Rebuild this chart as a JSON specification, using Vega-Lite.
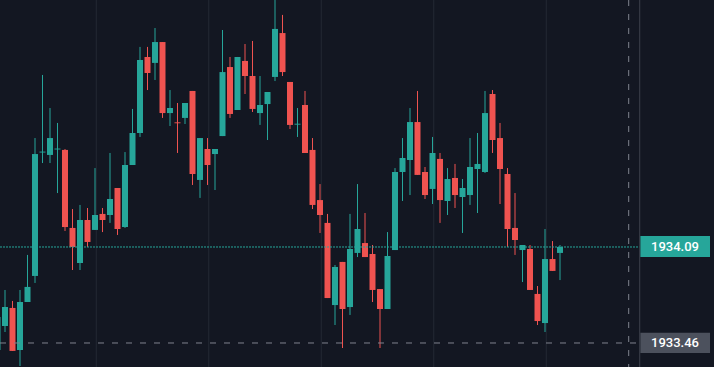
{
  "$schema": "https://vega.github.io/schema/vega-lite/v6.json",
  "width": 714,
  "height": 367,
  "autosize": {"type": "none"},
  "padding": 0,
  "background": "#131722",
  "config": {"view": {"stroke": null}, "scale": {"continuousPadding": 0}},
  "datasets": {
    "candles": [
      {"i": -1, "o": 1933.414, "c": 1933.631, "h": 1933.709, "l": 1933.348, "d": "up"},
      {"i": 0, "o": 1933.572, "c": 1933.696, "h": 1933.808, "l": 1933.532, "d": "up"},
      {"i": 1, "o": 1933.690, "c": 1933.408, "h": 1933.736, "l": 1933.408, "d": "down"},
      {"i": 2, "o": 1933.414, "c": 1933.729, "h": 1933.808, "l": 1933.309, "d": "up"},
      {"i": 3, "o": 1933.729, "c": 1933.828, "h": 1934.038, "l": 1933.729, "d": "up"},
      {"i": 4, "o": 1933.900, "c": 1934.700, "h": 1934.805, "l": 1933.854, "d": "up"},
      {"i": 5, "o": 1934.710, "c": 1934.716, "h": 1935.219, "l": 1934.641, "d": "up"},
      {"i": 6, "o": 1934.694, "c": 1934.805, "h": 1935.002, "l": 1934.641, "d": "up"},
      {"i": 7, "o": 1934.730, "c": 1934.736, "h": 1934.904, "l": 1934.444, "d": "up"},
      {"i": 8, "o": 1934.727, "c": 1934.221, "h": 1934.733, "l": 1934.195, "d": "down"},
      {"i": 9, "o": 1934.215, "c": 1934.090, "h": 1934.339, "l": 1933.939, "d": "down"},
      {"i": 10, "o": 1933.985, "c": 1934.267, "h": 1934.366, "l": 1933.939, "d": "up"},
      {"i": 11, "o": 1934.267, "c": 1934.123, "h": 1934.346, "l": 1934.090, "d": "down"},
      {"i": 12, "o": 1934.202, "c": 1934.300, "h": 1934.608, "l": 1934.202, "d": "up"},
      {"i": 13, "o": 1934.307, "c": 1934.267, "h": 1934.346, "l": 1934.188, "d": "down"},
      {"i": 14, "o": 1934.300, "c": 1934.405, "h": 1934.707, "l": 1934.248, "d": "up"},
      {"i": 15, "o": 1934.477, "c": 1934.208, "h": 1934.477, "l": 1934.169, "d": "down"},
      {"i": 16, "o": 1934.221, "c": 1934.628, "h": 1934.713, "l": 1934.215, "d": "up"},
      {"i": 17, "o": 1934.628, "c": 1934.838, "h": 1934.996, "l": 1934.628, "d": "up"},
      {"i": 18, "o": 1934.838, "c": 1935.317, "h": 1935.403, "l": 1934.812, "d": "up"},
      {"i": 19, "o": 1935.337, "c": 1935.232, "h": 1935.403, "l": 1935.120, "d": "down"},
      {"i": 20, "o": 1935.298, "c": 1935.435, "h": 1935.527, "l": 1935.186, "d": "up"},
      {"i": 21, "o": 1935.435, "c": 1934.969, "h": 1935.435, "l": 1934.937, "d": "down"},
      {"i": 22, "o": 1934.969, "c": 1935.002, "h": 1935.120, "l": 1934.884, "d": "up"},
      {"i": 23, "o": 1934.908, "c": 1934.902, "h": 1935.035, "l": 1934.707, "d": "down"},
      {"i": 24, "o": 1934.937, "c": 1935.035, "h": 1935.035, "l": 1934.897, "d": "up"},
      {"i": 25, "o": 1935.114, "c": 1934.569, "h": 1935.114, "l": 1934.497, "d": "down"},
      {"i": 26, "o": 1934.530, "c": 1934.805, "h": 1934.805, "l": 1934.412, "d": "up"},
      {"i": 27, "o": 1934.733, "c": 1934.628, "h": 1934.805, "l": 1934.497, "d": "down"},
      {"i": 28, "o": 1934.700, "c": 1934.733, "h": 1934.733, "l": 1934.464, "d": "up"},
      {"i": 29, "o": 1934.818, "c": 1935.238, "h": 1935.514, "l": 1934.818, "d": "up"},
      {"i": 30, "o": 1935.271, "c": 1934.963, "h": 1935.337, "l": 1934.937, "d": "down"},
      {"i": 31, "o": 1934.989, "c": 1935.337, "h": 1935.337, "l": 1934.989, "d": "up"},
      {"i": 32, "o": 1935.311, "c": 1935.212, "h": 1935.422, "l": 1935.094, "d": "down"},
      {"i": 33, "o": 1935.212, "c": 1934.996, "h": 1935.442, "l": 1934.976, "d": "down"},
      {"i": 34, "o": 1934.969, "c": 1935.022, "h": 1935.212, "l": 1934.891, "d": "up"},
      {"i": 35, "o": 1935.028, "c": 1935.107, "h": 1935.107, "l": 1934.792, "d": "up"},
      {"i": 36, "o": 1935.206, "c": 1935.521, "h": 1935.744, "l": 1935.179, "d": "up"},
      {"i": 37, "o": 1935.494, "c": 1935.238, "h": 1935.613, "l": 1935.212, "d": "down"},
      {"i": 38, "o": 1935.173, "c": 1934.891, "h": 1935.173, "l": 1934.864, "d": "down"},
      {"i": 39, "o": 1934.893, "c": 1934.899, "h": 1935.002, "l": 1934.812, "d": "up"},
      {"i": 40, "o": 1935.022, "c": 1934.707, "h": 1935.114, "l": 1934.707, "d": "down"},
      {"i": 41, "o": 1934.727, "c": 1934.366, "h": 1934.805, "l": 1934.339, "d": "down"},
      {"i": 42, "o": 1934.398, "c": 1934.300, "h": 1934.503, "l": 1934.182, "d": "down"},
      {"i": 43, "o": 1934.248, "c": 1933.755, "h": 1934.307, "l": 1933.755, "d": "down"},
      {"i": 44, "o": 1933.709, "c": 1933.959, "h": 1933.972, "l": 1933.578, "d": "up"},
      {"i": 45, "o": 1933.992, "c": 1933.683, "h": 1933.992, "l": 1933.427, "d": "down"},
      {"i": 46, "o": 1933.696, "c": 1934.077, "h": 1934.307, "l": 1933.644, "d": "up"},
      {"i": 47, "o": 1934.051, "c": 1934.208, "h": 1934.503, "l": 1934.024, "d": "up"},
      {"i": 48, "o": 1934.116, "c": 1934.024, "h": 1934.313, "l": 1934.024, "d": "down"},
      {"i": 49, "o": 1934.044, "c": 1933.808, "h": 1934.103, "l": 1933.729, "d": "down"},
      {"i": 50, "o": 1933.814, "c": 1933.683, "h": 1933.814, "l": 1933.427, "d": "down"},
      {"i": 51, "o": 1933.683, "c": 1934.031, "h": 1934.188, "l": 1933.683, "d": "up"},
      {"i": 52, "o": 1934.070, "c": 1934.582, "h": 1934.608, "l": 1934.070, "d": "up"},
      {"i": 53, "o": 1934.582, "c": 1934.674, "h": 1934.805, "l": 1934.392, "d": "up"},
      {"i": 54, "o": 1934.661, "c": 1934.910, "h": 1935.002, "l": 1934.431, "d": "up"},
      {"i": 55, "o": 1934.910, "c": 1934.563, "h": 1935.114, "l": 1934.563, "d": "down"},
      {"i": 56, "o": 1934.582, "c": 1934.431, "h": 1934.615, "l": 1934.405, "d": "down"},
      {"i": 57, "o": 1934.471, "c": 1934.707, "h": 1934.812, "l": 1934.372, "d": "up"},
      {"i": 58, "o": 1934.668, "c": 1934.398, "h": 1934.707, "l": 1934.248, "d": "down"},
      {"i": 59, "o": 1934.392, "c": 1934.536, "h": 1934.608, "l": 1934.300, "d": "up"},
      {"i": 60, "o": 1934.543, "c": 1934.431, "h": 1934.635, "l": 1934.346, "d": "down"},
      {"i": 61, "o": 1934.418, "c": 1934.477, "h": 1934.536, "l": 1934.182, "d": "up"},
      {"i": 62, "o": 1934.431, "c": 1934.615, "h": 1934.805, "l": 1934.366, "d": "up"},
      {"i": 63, "o": 1934.602, "c": 1934.635, "h": 1934.838, "l": 1934.313, "d": "up"},
      {"i": 64, "o": 1934.582, "c": 1934.969, "h": 1935.114, "l": 1934.576, "d": "up"},
      {"i": 65, "o": 1935.094, "c": 1934.792, "h": 1935.120, "l": 1934.707, "d": "down"},
      {"i": 66, "o": 1934.805, "c": 1934.602, "h": 1934.904, "l": 1934.372, "d": "down"},
      {"i": 67, "o": 1934.569, "c": 1934.208, "h": 1934.608, "l": 1934.090, "d": "down"},
      {"i": 68, "o": 1934.215, "c": 1934.136, "h": 1934.444, "l": 1934.038, "d": "down"},
      {"i": 69, "o": 1934.070, "c": 1934.103, "h": 1934.103, "l": 1933.860, "d": "up"},
      {"i": 70, "o": 1934.077, "c": 1933.808, "h": 1934.103, "l": 1933.808, "d": "down"},
      {"i": 71, "o": 1933.782, "c": 1933.604, "h": 1933.834, "l": 1933.578, "d": "down"},
      {"i": 72, "o": 1933.591, "c": 1934.011, "h": 1934.208, "l": 1933.532, "d": "up"},
      {"i": 73, "o": 1934.011, "c": 1933.933, "h": 1934.129, "l": 1933.933, "d": "down"},
      {"i": 74, "o": 1934.051, "c": 1934.090, "h": 1934.103, "l": 1933.873, "d": "up"}
    ],
    "grid": [{"g": 12.17}, {"g": 27.17}, {"g": 42.17}, {"g": 57.17}, {"g": 72.17}],
    "lines": [
      {"kind": "last", "p": 1934.09, "x0": -0.6667, "x1": 84.6},
      {"kind": "cross", "p": 1933.46, "x0": -0.6667, "x1": 84.6}
    ],
    "vlines": [{"kind": "cross", "v": 83.16}, {"kind": "sep", "v": 84.63}],
    "labels": [
      {"kind": "last", "text": "1934.09", "p": 1934.09, "b0": 1934.162, "b1": 1934.024, "xa": 84.72, "xb": 94.0, "xt": 89.33},
      {"kind": "cross", "text": "1933.46", "p": 1933.46, "b0": 1933.527, "b1": 1933.394, "xa": 84.72, "xb": 94.0, "xt": 89.33}
    ]
  },
  "layer": [
    {
      "data": {"name": "grid"},
      "mark": {"type": "rule", "color": "#242935", "strokeWidth": 1},
      "encoding": {
        "x": {"field": "g", "type": "quantitative", "scale": {"domain": [-0.6667, 94.5333], "nice": false, "zero": false, "padding": 0}, "axis": null}
      }
    },
    {
      "data": {"name": "candles"},
      "mark": {"type": "rule", "strokeWidth": 1, "clip": true},
      "encoding": {
        "x": {"field": "i", "type": "quantitative", "scale": {"domain": [-0.6667, 94.5333], "nice": false, "zero": false, "padding": 0}, "axis": null},
        "y": {"field": "l", "type": "quantitative", "scale": {"domain": [1933.3025, 1935.7109], "nice": false, "zero": false, "padding": 0}, "axis": null},
        "y2": {"field": "h"},
        "color": {"field": "d", "type": "nominal", "scale": {"domain": ["up", "down"], "range": ["#26a69a", "#ef5350"]}, "legend": null}
      }
    },
    {
      "data": {"name": "candles"},
      "mark": {"type": "bar", "width": 6, "clip": true},
      "encoding": {
        "x": {"field": "i", "type": "quantitative", "scale": {"domain": [-0.6667, 94.5333], "nice": false, "zero": false, "padding": 0}, "axis": null},
        "y": {"field": "o", "type": "quantitative", "scale": {"domain": [1933.3025, 1935.7109], "nice": false, "zero": false, "padding": 0}, "axis": null},
        "y2": {"field": "c"},
        "color": {"field": "d", "type": "nominal", "scale": {"domain": ["up", "down"], "range": ["#26a69a", "#ef5350"]}, "legend": null}
      }
    },
    {
      "data": {"name": "lines"},
      "transform": [{"filter": "datum.kind == 'last'"}],
      "mark": {"type": "rule", "color": "#26a69a", "strokeWidth": 1, "strokeDash": [2, 1]},
      "encoding": {
        "x": {"field": "x0", "type": "quantitative", "scale": {"domain": [-0.6667, 94.5333], "nice": false, "zero": false, "padding": 0}, "axis": null},
        "x2": {"field": "x1"},
        "y": {"field": "p", "type": "quantitative", "scale": {"domain": [1933.3025, 1935.7109], "nice": false, "zero": false, "padding": 0}, "axis": null}
      }
    },
    {
      "data": {"name": "lines"},
      "transform": [{"filter": "datum.kind == 'cross'"}],
      "mark": {"type": "rule", "color": "#7f838e", "strokeWidth": 1, "strokeDash": [6, 8]},
      "encoding": {
        "x": {"field": "x0", "type": "quantitative", "scale": {"domain": [-0.6667, 94.5333], "nice": false, "zero": false, "padding": 0}, "axis": null},
        "x2": {"field": "x1"},
        "y": {"field": "p", "type": "quantitative", "scale": {"domain": [1933.3025, 1935.7109], "nice": false, "zero": false, "padding": 0}, "axis": null}
      }
    },
    {
      "data": {"name": "vlines"},
      "transform": [{"filter": "datum.kind == 'cross'"}],
      "mark": {"type": "rule", "color": "#7f838e", "strokeWidth": 1, "strokeDash": [6, 8]},
      "encoding": {
        "x": {"field": "v", "type": "quantitative", "scale": {"domain": [-0.6667, 94.5333], "nice": false, "zero": false, "padding": 0}, "axis": null}
      }
    },
    {
      "data": {"name": "vlines"},
      "transform": [{"filter": "datum.kind == 'sep'"}],
      "mark": {"type": "rule", "color": "#3d414c", "strokeWidth": 1},
      "encoding": {
        "x": {"field": "v", "type": "quantitative", "scale": {"domain": [-0.6667, 94.5333], "nice": false, "zero": false, "padding": 0}, "axis": null}
      }
    },
    {
      "data": {"name": "labels"},
      "mark": {"type": "rect"},
      "encoding": {
        "x": {"field": "xa", "type": "quantitative", "scale": {"domain": [-0.6667, 94.5333], "nice": false, "zero": false, "padding": 0}, "axis": null},
        "x2": {"field": "xb"},
        "y": {"field": "b0", "type": "quantitative", "scale": {"domain": [1933.3025, 1935.7109], "nice": false, "zero": false, "padding": 0}, "axis": null},
        "y2": {"field": "b1"},
        "fill": {"field": "kind", "type": "nominal", "scale": {"domain": ["last", "cross"], "range": ["#26a69a", "#4c515d"]}, "legend": null}
      }
    },
    {
      "data": {"name": "labels"},
      "mark": {"type": "text", "align": "center", "baseline": "middle", "font": "Roboto", "fontSize": 13, "fontWeight": 500, "color": "#ffffff"},
      "encoding": {
        "x": {"field": "xt", "type": "quantitative", "scale": {"domain": [-0.6667, 94.5333], "nice": false, "zero": false, "padding": 0}, "axis": null},
        "y": {"field": "p", "type": "quantitative", "scale": {"domain": [1933.3025, 1935.7109], "nice": false, "zero": false, "padding": 0}, "axis": null},
        "text": {"field": "text"}
      }
    }
  ]
}
